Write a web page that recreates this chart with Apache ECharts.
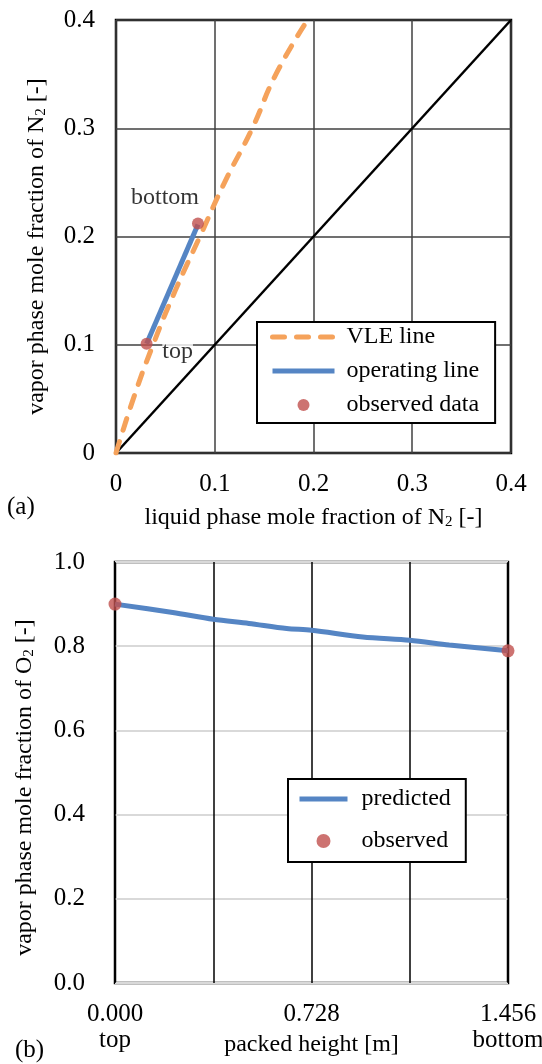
<!DOCTYPE html>
<html>
<head>
<meta charset="utf-8">
<script src="https://cdn.jsdelivr.net/npm/echarts@6/dist/echarts.min.js"></script>
<style>
html,body{margin:0;padding:0;background:#fff;}
#chart{width:542px;height:1064px;}
</style>
</head>
<body>
<div id="chart"></div>
<script>
// ---- Panel (a): x-y diagram ----
const vleX = [0, 0.0175, 0.0375, 0.06, 0.085, 0.11, 0.138, 0.162, 0.194];
const vleY = [0, 0.05, 0.1, 0.15, 0.2, 0.25, 0.3, 0.35, 0.4];
const opX = [0.031, 0.083];
const opY = [0.101, 0.211];
const obsAX = [0.031, 0.083];
const obsAY = [0.101, 0.212];
const obsALabels = ['top', 'bottom'];
const diagX = [0, 0.4];
const diagY = [0, 0.4];

// ---- Panel (b): O2 profile ----
const heightM = [0, 0.214, 0.364, 0.496, 0.636, 0.728, 0.918, 1.092, 1.238, 1.456];
const predO2 = [0.900, 0.880, 0.864, 0.854, 0.842, 0.838, 0.822, 0.814, 0.803, 0.789];
const obsHeight = [0, 1.456];
const obsO2 = [0.900, 0.789];
const heightTickLabels = ['0.000', '', '0.728', '', '1.456'];
const heightTickNotes = ['top', '', '', '', 'bottom'];

const FONT = 'Liberation Serif';
const ORANGE = '#F5A25B', BLUE = '#5585C4', RED = '#C0504D';
const zip = (a, b) => a.map((v, i) => [v, b[i]]);

const chart = echarts.init(document.getElementById('chart'), null, {renderer: 'canvas'});

const subRich = {sub: {fontSize: 15, fontFamily: FONT, color: '#000', verticalAlign: 'top', padding: [10, 0, 0, 0]}};

const option = {
  backgroundColor: '#fff',
  animation: false,
  grid: [
    {left: 116, top: 20, width: 395, height: 433, show: true, borderColor: '#000', borderWidth: 2.5,
     backgroundColor: 'transparent', containLabel: false, outerBoundsMode: 'none'},
    {left: 115, top: 562, width: 393, height: 421, show: true, borderColor: '#000', borderWidth: 2.5,
     backgroundColor: 'transparent', containLabel: false, outerBoundsMode: 'none'}
  ],
  xAxis: [
    {
      type: 'value', gridIndex: 0, min: 0, max: 0.4, interval: 0.1,
      axisLine: {show: false}, axisTick: {show: false},
      splitLine: {show: true, lineStyle: {color: '#404040', width: 1.5}},
      axisLabel: {fontFamily: FONT, fontSize: 25, color: '#000', margin: 19},
      name: 'liquid phase mole fraction of N{sub|2} [-]',
      nameLocation: 'middle', nameGap: 52, nameMoveOverlap: false,
      nameTextStyle: {fontFamily: FONT, fontSize: 24, color: '#000', rich: subRich}
    },
    {
      type: 'value', gridIndex: 1, min: 0, max: 1.456, interval: 0.364,
      axisLine: {show: false}, axisTick: {show: false},
      splitLine: {show: true, lineStyle: {color: '#000', width: 1.5}},
      axisLabel: {
        fontFamily: FONT, fontSize: 25, color: '#000', margin: 18, lineHeight: 26,
        formatter: (v, i) => heightTickNotes[i] ? heightTickLabels[i] + '\n' + heightTickNotes[i] : heightTickLabels[i]
      },
      name: 'packed height [m]',
      nameLocation: 'middle', nameGap: 50, nameMoveOverlap: false,
      nameTextStyle: {fontFamily: FONT, fontSize: 24, color: '#000'}
    }
  ],
  yAxis: [
    {
      type: 'value', gridIndex: 0, min: 0, max: 0.4, interval: 0.1,
      axisLine: {show: false}, axisTick: {show: false},
      splitLine: {show: true, lineStyle: {color: '#404040', width: 1.5}},
      axisLabel: {fontFamily: FONT, fontSize: 25, color: '#000', margin: 21},
      name: 'vapor phase mole fraction of N{sub|2} [-]',
      nameLocation: 'middle', nameGap: 67, nameMoveOverlap: false,
      nameTextStyle: {fontFamily: FONT, fontSize: 24, color: '#000', padding: [0, 20, 0, 0], rich: subRich}
    },
    {
      type: 'value', gridIndex: 1, min: 0, max: 1.0, interval: 0.2,
      axisLine: {show: false}, axisTick: {show: false},
      splitLine: {show: true, lineStyle: {color: '#d9d9d9', width: 2}},
      axisLabel: {fontFamily: FONT, fontSize: 25, color: '#000', margin: 30, formatter: v => v.toFixed(1)},
      name: 'vapor phase mole fraction of O{sub|2} [-]',
      nameLocation: 'middle', nameGap: 78, nameMoveOverlap: false,
      nameTextStyle: {fontFamily: FONT, fontSize: 24, color: '#000', padding: [0, 30, 0, 0], rich: subRich}
    }
  ],
  legend: [
    {
      data: [
        {name: 'VLE line', itemStyle: {opacity: 0}, lineStyle: {width: 5, color: ORANGE, type: [12, 12], cap: 'round'}},
        {name: 'operating line', itemStyle: {opacity: 0}, lineStyle: {width: 5, color: BLUE}},
        {name: 'observed data'}
      ],
      orient: 'vertical', left: 257, top: 322,
      itemWidth: 62, itemHeight: 12, itemGap: 10,
      padding: [3, 16, 6, 13],
      backgroundColor: '#fff', borderColor: '#000', borderWidth: 2,
      textStyle: {fontFamily: FONT, fontSize: 24, color: '#000', lineHeight: 24, padding: [0, 0, 0, 7]},
      selectedMode: false
    },
    {
      data: [
        {name: 'predicted', itemStyle: {opacity: 0}, lineStyle: {width: 5, color: BLUE}},
        {name: 'observed'}
      ],
      orient: 'vertical', left: 288, top: 779,
      itemWidth: 48, itemHeight: 14, itemGap: 18,
      padding: [8, 15, 9, 9],
      backgroundColor: '#fff', borderColor: '#000', borderWidth: 2,
      textStyle: {fontFamily: FONT, fontSize: 24, color: '#000', lineHeight: 24, padding: [0, 0, 0, 9]},
      selectedMode: false
    }
  ],
  series: [
    {
      name: 'diagonal', type: 'line', xAxisIndex: 0, yAxisIndex: 0,
      data: zip(diagX, diagY), symbol: 'none',
      lineStyle: {color: '#000', width: 2.5}, z: 3
    },
    {
      name: 'VLE line', type: 'line', xAxisIndex: 0, yAxisIndex: 0,
      data: zip(vleX, vleY), symbol: 'none', smooth: true,
      itemStyle: {color: ORANGE},
      lineStyle: {color: ORANGE, width: 5, type: [12, 12], cap: 'round'}, z: 4
    },
    {
      name: 'operating line', type: 'line', xAxisIndex: 0, yAxisIndex: 0,
      data: zip(opX, opY), symbol: 'none',
      itemStyle: {color: BLUE},
      lineStyle: {color: BLUE, width: 5}, z: 5
    },
    {
      name: 'observed data', type: 'scatter', xAxisIndex: 0, yAxisIndex: 0,
      symbolSize: 12, itemStyle: {color: RED}, z: 6,
      data: zip(obsAX, obsAY).map((p, i) => ({
        value: p,
        label: {
          show: true, formatter: obsALabels[i], position: 'inside',
          offset: i === 0 ? [31, 8] : [-33, -26],
          fontFamily: FONT, fontSize: 24, color: '#000', backgroundColor: '#fff'
        }
      }))
    },
    {
      name: 'predicted', type: 'line', xAxisIndex: 1, yAxisIndex: 1,
      data: zip(heightM, predO2), symbol: 'none', smooth: 0.3,
      itemStyle: {color: BLUE},
      lineStyle: {color: BLUE, width: 5}, z: 5
    },
    {
      name: 'observed', type: 'scatter', xAxisIndex: 1, yAxisIndex: 1,
      data: zip(obsHeight, obsO2), symbolSize: 13,
      itemStyle: {color: RED}, z: 6
    }
  ],
  graphic: [
    {type: 'text', left: 7, top: 495, style: {text: '(a)', font: '25px "Liberation Serif"', fill: '#000'}},
    {type: 'text', left: 15, top: 1038, style: {text: '(b)', font: '25px "Liberation Serif"', fill: '#000'}}
  ]
};
chart.setOption(option);
</script>
</body>
</html>
